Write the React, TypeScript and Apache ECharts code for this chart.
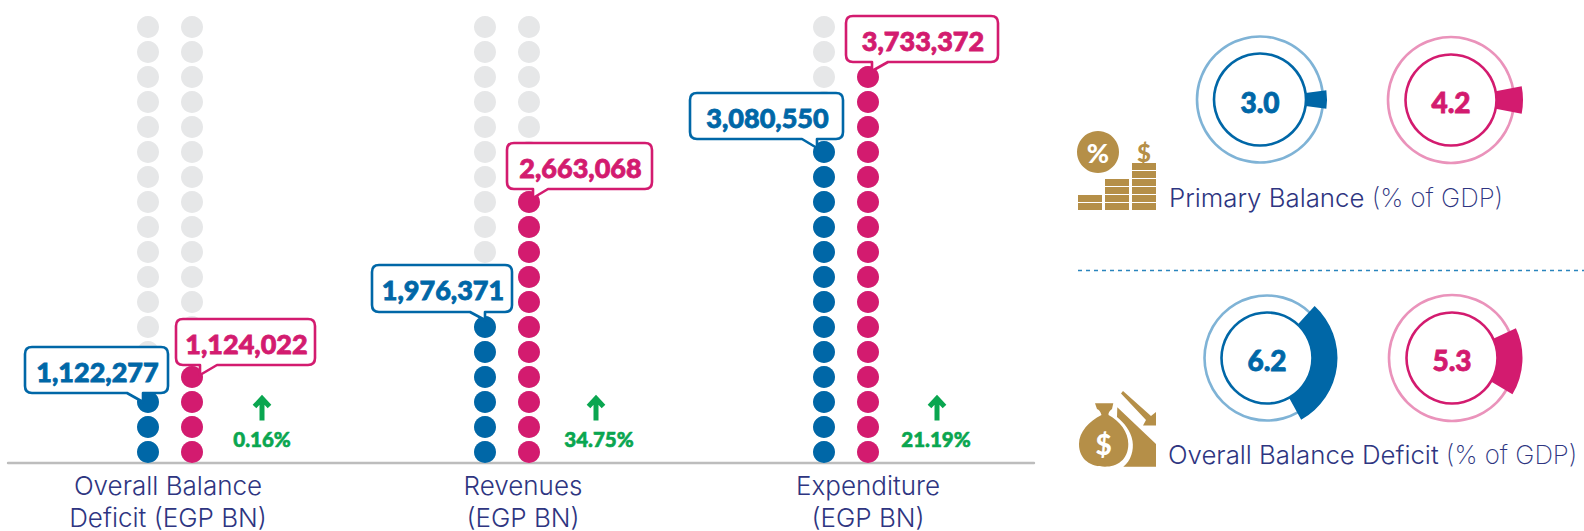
import React, { useEffect, useRef } from "react";
import * as echarts from "echarts";

// ---- data ----
const categories = ["Overall Balance\nDeficit (EGP BN)", "Revenues\n(EGP BN)", "Expenditure\n(EGP BN)"];
const blueValues = ["1,122,277", "1,976,371", "3,080,550"];
const pinkValues = ["1,124,022", "2,663,068", "3,733,372"];
const changes = ["0.16%", "34.75%", "21.19%"];
const blueFilledDots = [3, 6, 13];
const pinkFilledDots = [4, 11, 16];
const totalDots = 18;
const donutLabels = ["3.0", "4.2", "6.2", "5.3"];
const donutWedgeDegrees = [16, 22, 108.5, 56];

// ---- style & layout ----
const BLUE = "#0067a7";
const PINK = "#d31b6f";
const GREY = "#e6e7e8";
const NAVY = "#2e3581";
const GREEN = "#0aa650";
const GOLD = "#b58f48";
const LIGHT_BLUE = "#7fb3d6";
const LIGHT_PINK = "#ea93bb";
const HEAVY = "Lato";
const THIN = "Inter";

const px2x = (px: number) => (px - 170) / 338;
const colOffset = 22 / 338;
const groupCenters = [0, 0.997, 2];

const callouts = [
  { name: "c0", color: BLUE, text: blueValues[0], x: 25, y: 347, w: 143, h: 46, t: [127, 143, 143, 402] },
  { name: "c1", color: PINK, text: pinkValues[0], x: 176, y: 319, w: 139, h: 46, t: [217, 200, 200, 375] },
  { name: "c2", color: BLUE, text: blueValues[1], x: 372, y: 265, w: 140, h: 47, t: [470, 485, 485, 320] },
  { name: "c3", color: PINK, text: pinkValues[1], x: 507, y: 143, w: 145, h: 46, t: [548, 533, 533, 198] },
  { name: "c4", color: BLUE, text: blueValues[2], x: 690, y: 93, w: 153, h: 46, t: [802, 817, 817, 148] },
  { name: "c5", color: PINK, text: pinkValues[2], x: 846, y: 16, w: 152, h: 46, t: [888, 872, 872, 71] },
];

function calloutPath(c: any) {
  const r = 7;
  const { x, y, w, h, t } = c;
  const b = y + h;
  const [t1, t2, tx, ty] = t;
  const bottom = t1 < t2
    ? `L${t2} ${b}L${tx} ${ty}L${t1} ${b}`
    : `L${t1} ${b}L${tx} ${ty}L${t2} ${b}`;
  return `M${x + r} ${y}L${x + w - r} ${y}Q${x + w} ${y} ${x + w} ${y + r}L${x + w} ${b - r}Q${x + w} ${b} ${x + w - r} ${b}${bottom}L${x + r} ${b}Q${x} ${b} ${x} ${b - r}L${x} ${y + r}Q${x} ${y} ${x + r} ${y}Z`;
}
callouts.forEach((c) => echarts.graphic.registerShape(c.name, echarts.graphic.extendPath(calloutPath(c), {})));

echarts.graphic.registerShape("upArrow", echarts.graphic.extendPath("M0 -11L0 11M-7.5 -3L0 -11L7.5 -3", {}));
echarts.graphic.registerShape("bagBody", echarts.graphic.extendPath(
  "M1095 403.3L1113.3 403.3L1112 409Q1108 412 1108.5 415C1120 421 1128.3 432 1128.3 444C1128.3 460 1117 466.7 1105 466.7C1091 466.7 1079 460 1079 444C1079 432 1089 421 1101.5 415Q1100 410 1097 409Z", {}));
echarts.graphic.registerShape("bagSlope", echarts.graphic.extendPath(
  "M1117.3 407.3L1156 444L1156 466.7L1123.3 466.7C1131 461 1134 450 1132.5 441C1130.5 430 1124 423 1117 417Z", {}));
echarts.graphic.registerShape("bagArrow", echarts.graphic.extendPath(
  "M1123 391L1121 393.5L1146 420L1143 425.5L1156 425.5L1156 412L1151 416Z", {}));

const donuts = [
  { c: [1260, 99.5], ring: 63, inner: 46, outer: 67, start: 8, color: BLUE, light: LIGHT_BLUE },
  { c: [1451, 100], ring: 63, inner: 45.5, outer: 72, start: 11, color: PINK, light: LIGHT_PINK },
  { c: [1267, 358], ring: 62.5, inner: 45.5, outer: 70.5, start: 47.5, color: BLUE, light: LIGHT_BLUE },
  { c: [1452, 358], ring: 63, inner: 45.5, outer: 70.5, start: 25, color: PINK, light: LIGHT_PINK },
];

function dots(filled: number[] | null, side: number) {
  const out: number[][] = [];
  categories.forEach((_, g) => {
    const n = filled ? filled[g] : totalDots;
    for (let i = 1; i <= n; i++) out.push([groupCenters[g] + side * colOffset, i]);
  });
  return out;
}

const labelCenters = [168, 523, 868];
const changeCenters = [262, 599, 936];
const arrowCenters = [262, 596, 937];

function text(x: number, y: number, t: string, fontSize: number, fill: string, fontWeight: any, font: string, extra: any = {}) {
  return {
    type: "text", x, y, z: 50, silent: true,
    style: { text: t, fontSize, fontWeight, fontFamily: font, fill, align: "center", verticalAlign: "middle", textAlign: "center", textVerticalAlign: "middle", ...extra },
  };
}
const embolden = (color: string, w = 0.8) => ({ stroke: color, lineWidth: w });

function ring(c: number[], r: number, stroke: string, z = 1) {
  return {
    type: "pie", silent: true, animation: false, z, center: c, radius: [r - 1.3, r + 1.3],
    label: { show: false }, labelLine: { show: false },
    itemStyle: { color: stroke, borderWidth: 0 },
    emphasis: { disabled: true }, data: [{ value: 1 }],
  };
}

export default function App() {
  const ref = useRef<HTMLDivElement>(null);
  useEffect(() => {
    document.body.style.margin = "0";
    document.body.style.background = "#fff";
    const chart = echarts.init(ref.current!, null, { renderer: "svg" });

    const graphic: any[] = [];
    callouts.forEach((c) => {
      graphic.push({ type: c.name, z: 40, silent: true, style: { fill: "#fff", stroke: c.color, lineWidth: 2.6, lineJoin: "round" } });
      graphic.push(text(c.x + c.w / 2 + 1, c.y + c.h / 2 + 1, c.text, 27, c.color, 900, HEAVY, embolden(c.color)));
    });
    categories.forEach((cat, i) => {
      graphic.push(text(labelCenters[i], 501, cat, 26, NAVY, 300, THIN, { lineHeight: 32 }));
      graphic.push(text(changeCenters[i], 439, changes[i], 20.5, GREEN, 900, HEAVY, embolden(GREEN, 0.6)));
      graphic.push({ type: "upArrow", x: arrowCenters[i], y: 409.5, z: 50, silent: true, style: { fill: "none", stroke: GREEN, lineWidth: 5 } });
    });
    donutLabels.forEach((d, i) => {
      graphic.push(text(donuts[i].c[0], donuts[i].c[1] + 2, d, 28, donuts[i].color, 900, HEAVY, embolden(donuts[i].color)));
    });

    const rich = { a: { fontSize: 25.8, fontWeight: 300, fontFamily: THIN, fill: NAVY, color: NAVY }, b: { fontSize: 25.8, fontWeight: 200, fontFamily: THIN, fill: NAVY, color: NAVY } };
    graphic.push({ type: "text", x: 1169, y: 197, z: 50, silent: true, style: { text: "{a|Primary Balance }{b|(% of GDP)}", rich, align: "left", verticalAlign: "middle" } });
    graphic.push({ type: "text", x: 1168, y: 454, z: 50, silent: true, style: { text: "{a|Overall Balance Deficit }{b|(% of GDP)}", rich, align: "left", verticalAlign: "middle" } });

    graphic.push({ type: "line", z: 10, silent: true, shape: { x1: 1078, y1: 270.5, x2: 1584, y2: 270.5 }, style: { stroke: "#2a85bd", lineWidth: 1.3, lineDash: [4, 4] } });

    // coin stacks icon
    graphic.push({ type: "circle", z: 10, silent: true, shape: { cx: 1098, cy: 152, r: 21 }, style: { fill: GOLD } });
    graphic.push(text(1098, 152, "%", 27, "#fff", 900, HEAVY));
    graphic.push(text(1144, 152, "$", 24, GOLD, 900, HEAVY));
    [[1078, 2], [1105, 4], [1132, 6]].forEach(([x, rows]) => {
      for (let r = 0; r < rows; r++) {
        graphic.push({ type: "rect", z: 10, silent: true, shape: { x, y: 203 - r * 8, width: 24, height: 7 }, style: { fill: GOLD } });
      }
    });

    // money bag icon
    graphic.push({ type: "bagBody", z: 10, silent: true, style: { fill: GOLD } });
    graphic.push({ type: "bagSlope", z: 10, silent: true, style: { fill: GOLD } });
    graphic.push({ type: "bagArrow", z: 10, silent: true, style: { fill: GOLD } });
    graphic.push(text(1103.5, 444, "$", 28, "#fff", 900, HEAVY));

    const scatter = (data: number[][], color: string, z: number) => ({
      type: "scatter", data, symbol: "circle", symbolSize: 22, silent: true, z,
      itemStyle: { color, opacity: 1 }, animation: false, clip: false,
    });

    const series: any[] = [
      scatter(dots(null, -1), GREY, 2),
      scatter(dots(null, 1), GREY, 2),
      scatter(dots(blueFilledDots, -1), BLUE, 3),
      scatter(dots(pinkFilledDots, 1), PINK, 3),
    ];
    donuts.forEach((d, i) => {
      series.push(ring(d.c, d.ring, d.light, 1));
      series.push({
        type: "pie", silent: true, animation: false, z: 2, center: d.c, radius: [d.inner, d.outer],
        startAngle: d.start, clockwise: true, label: { show: false }, labelLine: { show: false },
        emphasis: { disabled: true },
        data: [
          { value: donutWedgeDegrees[i], itemStyle: { color: d.color } },
          { value: 360 - donutWedgeDegrees[i], itemStyle: { color: "rgba(0,0,0,0)" } },
        ],
      });
      series.push(ring(d.c, d.inner, d.color, 3));
    });

    chart.setOption({
      animation: false,
      backgroundColor: "#fff",
      tooltip: { show: false },
      grid: { left: 8, top: 2, width: 1026, height: 461 },
      xAxis: {
        type: "value", min: px2x(8), max: px2x(1034), splitLine: { show: false },
        axisTick: { show: false }, axisLabel: { show: false },
        axisLine: { show: true, onZero: false, lineStyle: { color: "#bdbdbd", width: 2.4 } },
      },
      yAxis: { type: "value", min: 0.56, max: 19, show: false, splitLine: { show: false } },
      series,
      graphic,
    });
    return () => chart.dispose();
  }, []);
  return <div ref={ref} style={{ position: "fixed", left: 0, top: 0, width: 1584, height: 531 }} />;
}
